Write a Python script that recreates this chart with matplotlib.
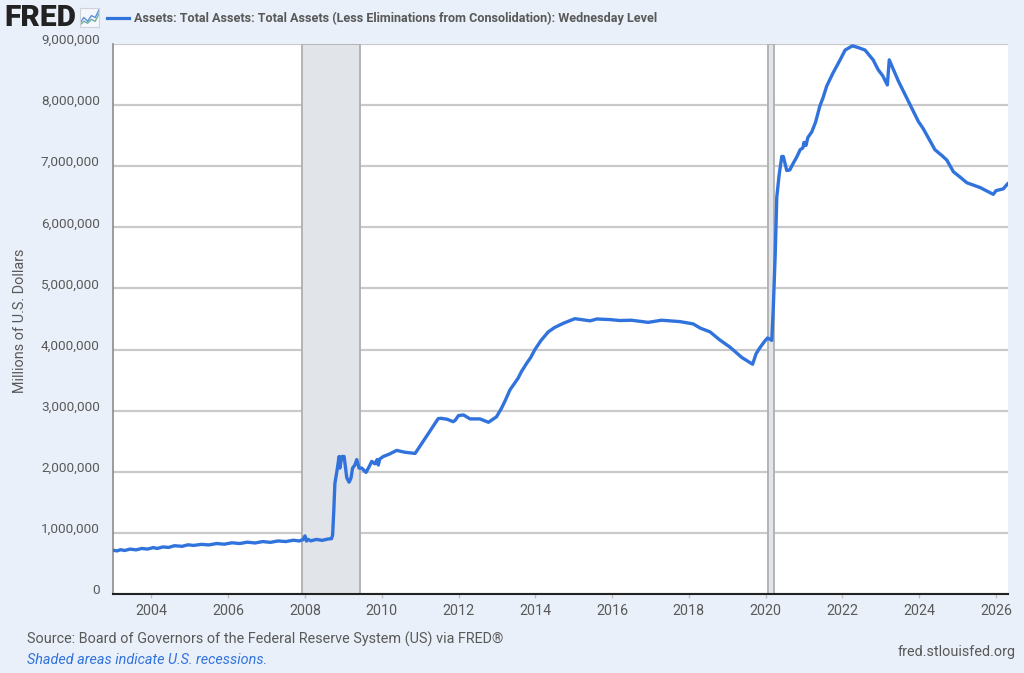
import matplotlib
matplotlib.use('Agg')
import matplotlib.pyplot as plt  # NOQA

plt.rcParams['font.family'] = ['Roboto', 'DejaVu Sans']

BG = '#e9f0f9'
BLUE = '#3173dc'
GRID = '#c9c9c9'
TEXT = '#595959'

# year fractions and total assets in millions of dollars
years = [2003.0, 2003.1, 2003.2, 2003.3, 2003.45, 2003.6, 2003.75, 2003.9, 2004.05,
         2004.15, 2004.3, 2004.45, 2004.6, 2004.8, 2004.95, 2005.1, 2005.3, 2005.5,
         2005.7, 2005.9, 2006.1, 2006.3, 2006.5, 2006.7, 2006.9, 2007.1, 2007.3,
         2007.5, 2007.7, 2007.85, 2007.95, 2008.0, 2008.04, 2008.08, 2008.15, 2008.3,
         2008.45, 2008.6, 2008.69, 2008.72, 2008.75, 2008.78, 2008.83, 2008.89,
         2008.91, 2008.96, 2009.02, 2009.09, 2009.15, 2009.2, 2009.24, 2009.3,
         2009.35, 2009.41, 2009.48, 2009.59, 2009.67, 2009.74, 2009.82, 2009.88,
         2009.91, 2009.95, 2010.04, 2010.2, 2010.39, 2010.6, 2010.87, 2011.04,
         2011.25, 2011.47, 2011.54, 2011.7, 2011.86, 2011.91, 2012.0, 2012.13,
         2012.3, 2012.56, 2012.78, 2012.99, 2013.12, 2013.22, 2013.34, 2013.45,
         2013.55, 2013.64, 2013.78, 2013.88, 2013.99, 2014.15, 2014.34, 2014.5,
         2014.73, 2015.03, 2015.2, 2015.43, 2015.6, 2015.76, 2015.95, 2016.2,
         2016.5, 2016.94, 2017.29, 2017.77, 2018.11, 2018.3, 2018.55, 2018.8,
         2019.07, 2019.38, 2019.66, 2019.75, 2019.85, 2019.98, 2020.05, 2020.16,
         2020.2, 2020.25, 2020.29, 2020.35, 2020.42, 2020.46, 2020.55, 2020.63,
         2020.72, 2020.81, 2020.9, 2020.97, 2021.0, 2021.05, 2021.1, 2021.2, 2021.3,
         2021.41, 2021.5, 2021.59, 2021.75, 2021.94, 2022.07, 2022.26, 2022.42,
         2022.59, 2022.8, 2022.93, 2023.05, 2023.17, 2023.22, 2023.46, 2023.76,
         2023.98, 2024.1, 2024.25, 2024.41, 2024.6, 2024.72, 2024.89, 2025.05,
         2025.24, 2025.59, 2025.93, 2026.0, 2026.19, 2026.3]
assets = [717000, 705000, 725000, 712000, 735000, 722000, 745000, 735000, 760000,
          745000, 770000, 762000, 790000, 780000, 805000, 795000, 812000, 803000,
          826000, 815000, 838000, 826000, 848000, 835000, 858000, 845000, 868000,
          858000, 880000, 868000, 890000, 950000, 865000, 895000, 870000, 893000,
          878000, 900000, 905000, 960000, 1350000, 1810000, 2000000, 2250000,
          2060000, 2250000, 2250000, 1900000, 1830000, 1900000, 2060000, 2110000,
          2200000, 2060000, 2060000, 1990000, 2080000, 2170000, 2130000, 2200000,
          2110000, 2210000, 2250000, 2290000, 2350000, 2320000, 2300000, 2460000,
          2660000, 2870000, 2875000, 2860000, 2820000, 2840000, 2920000, 2930000,
          2865000, 2865000, 2810000, 2900000, 3040000, 3170000, 3340000, 3440000,
          3530000, 3640000, 3780000, 3870000, 4000000, 4150000, 4290000, 4360000,
          4430000, 4505000, 4490000, 4470000, 4500000, 4495000, 4490000, 4475000,
          4480000, 4445000, 4480000, 4457000, 4420000, 4350000, 4290000, 4160000,
          4040000, 3870000, 3760000, 3930000, 4030000, 4140000, 4190000, 4150000,
          4690000, 5570000, 6490000, 6850000, 7160000, 7160000, 6930000, 6940000,
          7050000, 7150000, 7270000, 7300000, 7390000, 7340000, 7470000, 7560000,
          7720000, 7980000, 8130000, 8310000, 8520000, 8740000, 8900000, 8970000,
          8940000, 8900000, 8740000, 8580000, 8480000, 8330000, 8740000, 8390000,
          8010000, 7730000, 7620000, 7450000, 7270000, 7170000, 7100000, 6910000,
          6830000, 6730000, 6650000, 6540000, 6600000, 6630000, 6710000]

recessions = [(2007.92, 2009.43), (2020.05, 2020.23)]
y_ticks = [0, 1000000, 2000000, 3000000, 4000000, 5000000, 6000000, 7000000, 8000000, 9000000]
y_labels = ['0', '1,000,000', '2,000,000', '3,000,000', '4,000,000', '5,000,000',
            '6,000,000', '7,000,000', '8,000,000', '9,000,000']
x_ticks = list(range(2004, 2027, 2))

fig = plt.figure(figsize=(10.24, 6.73), dpi=100, facecolor=BG)
ax = fig.add_axes([113 / 1024, 1 - 594 / 673, 894.5 / 1024, 550 / 673])
ax.set_facecolor('white')

for start, end in recessions:
    ax.axvspan(start, end, facecolor='#e1e4e9', edgecolor='#b3b3b3', lw=1.4, zorder=1)

ax.plot(years, assets, color=BLUE, lw=2.4, zorder=3, solid_joinstyle='round')

ax.set_xlim(2003.0, 2026.3)
ax.set_ylim(0, 9000000)
ax.set_yticks(y_ticks)
ax.set_yticklabels(y_labels)
ax.set_xticks(x_ticks)
ax.set_xticklabels([str(y) for y in x_ticks])
ax.grid(axis='y', color=GRID, lw=1.6, zorder=0)
ax.set_axisbelow(True)

ax.tick_params(axis='y', length=0, pad=9.5, labelsize=9.7, labelcolor=TEXT)
ax.tick_params(axis='x', length=3, width=1, color='#c0c0c0', pad=4, labelsize=10.3, labelcolor=TEXT)
for lab in ax.get_yticklabels():
    lab.set_verticalalignment('baseline')

for side in ['top', 'right']:
    ax.spines[side].set_visible(False)
ax.spines['left'].set_color('#8c8c8c')
ax.spines['left'].set_linewidth(1.2)
ax.spines['bottom'].set_color('#222222')
ax.spines['bottom'].set_linewidth(1.5)

fig.text(20 / 1024, 1 - 321 / 673, 'Millions of U.S. Dollars', rotation=90, ha='center',
         va='center', fontsize=10.4, color=TEXT)

# header: logo, small icon and series key
fig.text(4 / 1024, 1 - 18 / 673, 'FRED', fontsize=21.5, fontweight='black', color='#222222',
         va='center', ha='left')
icon = fig.add_axes([80 / 1024, 1 - 27 / 673, 19 / 1024, 19 / 673], facecolor='#f4f7fb')
icon.plot([0, 2, 4, 6, 8, 10], [2, 5, 3, 6, 5, 9], color='#5b8fdc', lw=1)
icon.plot([0, 2, 4, 6, 8, 10], [1, 3, 2, 4, 3, 7], color='#6fae9d', lw=1)
icon.set_xlim(0, 10)
icon.set_ylim(0, 10)
icon.set_xticks([])
icon.set_yticks([])
for s in icon.spines.values():
    s.set_color('#cfd3d8')
    s.set_linewidth(0.8)

fig.add_artist(plt.Line2D([107 / 1024, 129 / 1024], [1 - 18 / 673] * 2, color=BLUE, lw=2.3))
fig.text(134 / 1024, 1 - 18 / 673,
         'Assets: Total Assets: Total Assets (Less Eliminations from Consolidation): Wednesday Level',
         fontsize=9.07, fontweight='bold', color=TEXT, va='center', ha='left')

# footer
fig.text(27 / 1024, 1 - 639 / 673,
         'Source: Board of Governors of the Federal Reserve System (US) via FRED\u00ae',
         fontsize=10.4, color=TEXT, va='center', ha='left')
fig.text(27 / 1024, 1 - 660 / 673, 'Shaded areas indicate U.S. recessions.', fontsize=10.4,
         style='italic', color=BLUE, va='center', ha='left')
fig.text(1016 / 1024, 1 - 652 / 673, 'fred.stlouisfed.org', fontsize=10.4, color=TEXT,
         va='center', ha='right')

fig.savefig('out.png', dpi=100, facecolor=BG)
plt.close(fig)
